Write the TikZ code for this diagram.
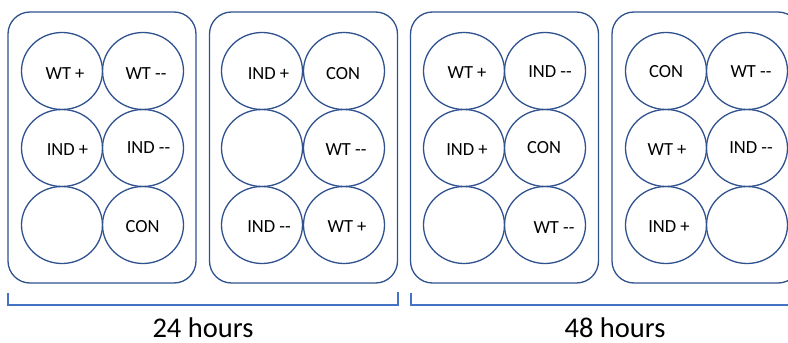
\documentclass[tikz,border=0pt]{standalone}
\usepackage{fontspec}
\setmainfont{Carlito}
\usetikzlibrary{shapes.geometric}
\definecolor{wellline}{HTML}{2F528F}
\definecolor{bracecol}{HTML}{4472C4}
\begin{document}
\begin{tikzpicture}[x=1pt,y=-1pt,
  plate/.style={draw=wellline,line width=1.3pt,rounded corners=22pt,
    minimum width=188pt,minimum height=271pt,inner sep=0pt},
  well/.style={draw=wellline,line width=1.3pt,ellipse,
    minimum width=81pt,minimum height=77pt,inner sep=0pt},
  lbl/.style={font=\fontsize{18.5}{20}\selectfont,inner sep=0pt},
  hrs/.style={font=\fontsize{28.5}{30}\selectfont,inner sep=0pt,anchor=base},
  bracket/.style={draw=bracecol,line width=2pt}]
\useasboundingbox (0,0) rectangle (788,343);
\clip (0,0) rectangle (788,343);

% plates
\node[plate] (plate1) at (102,147.5) {};
\node[plate] (plate2) at (303.5,147.5) {};
\node[plate] (plate3) at (504.5,147.5) {};
\node[plate] (plate4) at (706,147.5) {};

% wells: plate 1
\node[well] (p1a) at (62,71) {};
\node[well] (p1b) at (143,71) {};
\node[well] (p1c) at (62,148) {};
\node[well] (p1d) at (143,148) {};
\node[well] (p1e) at (62,225) {};
\node[well] (p1f) at (143,225) {};
% plate 2
\node[well] (p2a) at (262,71) {};
\node[well] (p2b) at (344,71) {};
\node[well] (p2c) at (262,148) {};
\node[well] (p2d) at (344,148) {};
\node[well] (p2e) at (262,225) {};
\node[well] (p2f) at (344,225) {};
% plate 3
\node[well] (p3a) at (464,71) {};
\node[well] (p3b) at (545,71) {};
\node[well] (p3c) at (464,148) {};
\node[well] (p3d) at (545,148) {};
\node[well] (p3e) at (464,225) {};
\node[well] (p3f) at (545,225) {};
% plate 4
\node[well] (p4a) at (666,71) {};
\node[well] (p4b) at (747,71) {};
\node[well] (p4c) at (666,148) {};
\node[well] (p4d) at (747,148) {};
\node[well] (p4e) at (666,225) {};
\node[well] (p4f) at (747,225) {};

% well labels
\node[lbl] (t1a) at (65,73.5) {WT +};
\node[lbl] (t1b) at (146,73.5) {WT -{}-};
\node[lbl] (t1c) at (67.5,150) {IND +};
\node[lbl] (t1d) at (148.5,148) {IND -{}-};
\node[lbl] (t1f) at (142.6,227) {CON};

\node[lbl] (t2a) at (268.5,74) {IND +};
\node[lbl] (t2b) at (343,74) {CON};
\node[lbl] (t2d) at (346,150) {WT -{}-};
\node[lbl] (t2e) at (269,227) {IND -{}-};
\node[lbl] (t2f) at (347,227) {WT +};

\node[lbl] (t3a) at (467,73) {WT +};
\node[lbl] (t3b) at (550,72) {IND -{}-};
\node[lbl] (t3c) at (467,150) {IND +};
\node[lbl] (t3d) at (544,148) {CON};
\node[lbl] (t3f) at (554,227.5) {WT -{}-};

\node[lbl] (t4a) at (666,72) {CON};
\node[lbl] (t4b) at (751,72) {WT -{}-};
\node[lbl] (t4c) at (667,150) {WT +};
\node[lbl] (t4d) at (751,148) {IND -{}-};
\node[lbl] (t4e) at (669,227) {IND +};

% time brackets
\draw[bracket] (8,293) -- (8,305) -- (398,305) -- (398,292);
\draw[bracket] (411,293) -- (411,305) -- (800,305);

\node[hrs] (h24) at (203,337) {24 hours};
\node[hrs] (h48) at (615,337) {48 hours};
\end{tikzpicture}
\end{document}
